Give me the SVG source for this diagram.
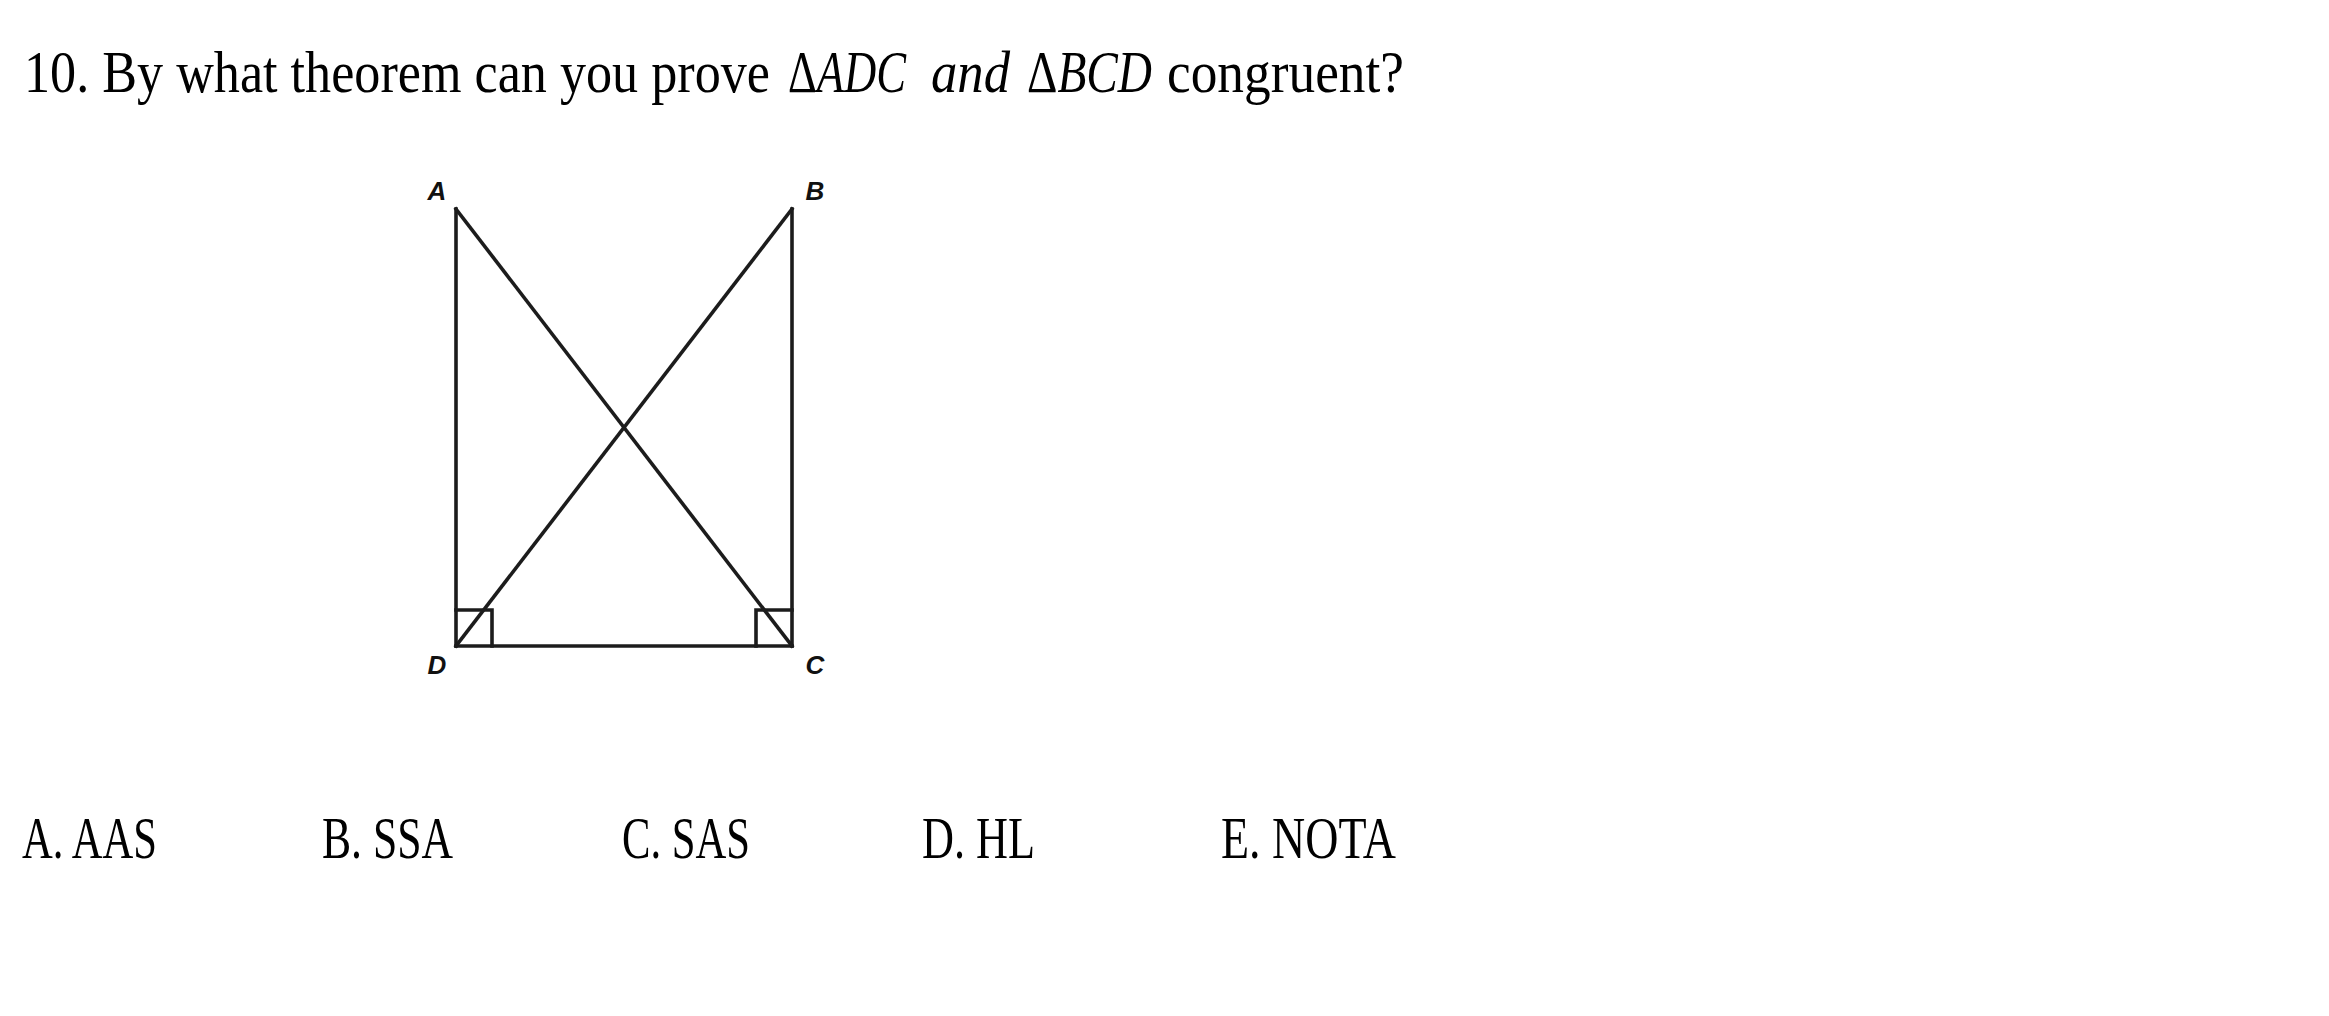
<svg xmlns="http://www.w3.org/2000/svg" width="2329" height="1016" viewBox="0 0 2329 1016">
<style>
.t{font-family:"Liberation Serif","Times New Roman",serif;font-size:60px;fill:#000}
.i{font-style:italic}
.a{font-family:"Liberation Serif","Times New Roman",serif;font-size:60px;fill:#000}
.lbl{font-family:"Liberation Sans",Arial,sans-serif;font-size:26px;font-weight:bold;font-style:italic;fill:#111;text-anchor:middle}
.ln{stroke:#1c1c1c;stroke-width:3.6;fill:none;stroke-linecap:square}
</style>
<rect width="2329" height="1016" fill="#fff"/>
<g id="question">
<text class="t" y="92"><tspan x="24" textLength="746" lengthAdjust="spacingAndGlyphs">10. By what theorem can you prove</tspan><tspan x="788" textLength="118" lengthAdjust="spacingAndGlyphs">Δ<tspan class="i">ADC</tspan></tspan><tspan class="i" x="931" textLength="79" lengthAdjust="spacingAndGlyphs">and</tspan><tspan x="1027" textLength="125" lengthAdjust="spacingAndGlyphs">Δ<tspan class="i">BCD</tspan></tspan><tspan x="1167" textLength="237" lengthAdjust="spacingAndGlyphs">congruent?</tspan></text>
</g>
<g id="figure">
<g id="connectors">
<line class="ln" x1="456" y1="209" x2="456" y2="646"/>
<line class="ln" x1="792" y1="209" x2="792" y2="646"/>
<line class="ln" x1="456" y1="646" x2="792" y2="646"/>
<line class="ln" x1="456" y1="209" x2="792" y2="646"/>
<line class="ln" x1="792" y1="209" x2="456" y2="646"/>
<polyline class="ln" points="456,610 492,610 492,646"/>
<polyline class="ln" points="792,610 756,610 756,646"/>
</g>
<g id="nodeA"><text class="lbl" x="437" y="200">A</text></g>
<g id="nodeB"><text class="lbl" x="815" y="200">B</text></g>
<g id="nodeC"><text class="lbl" x="815" y="674">C</text></g>
<g id="nodeD"><text class="lbl" x="437" y="674">D</text></g>
</g>
<g id="answers">
<text class="a" x="22" y="858" textLength="135" lengthAdjust="spacingAndGlyphs">A. AAS</text>
<text class="a" x="322" y="858" textLength="131" lengthAdjust="spacingAndGlyphs">B. SSA</text>
<text class="a" x="622" y="858" textLength="128" lengthAdjust="spacingAndGlyphs">C. SAS</text>
<text class="a" x="922" y="858" textLength="113" lengthAdjust="spacingAndGlyphs">D. HL</text>
<text class="a" x="1221" y="858" textLength="175" lengthAdjust="spacingAndGlyphs">E. NOTA</text>
</g>
</svg>
